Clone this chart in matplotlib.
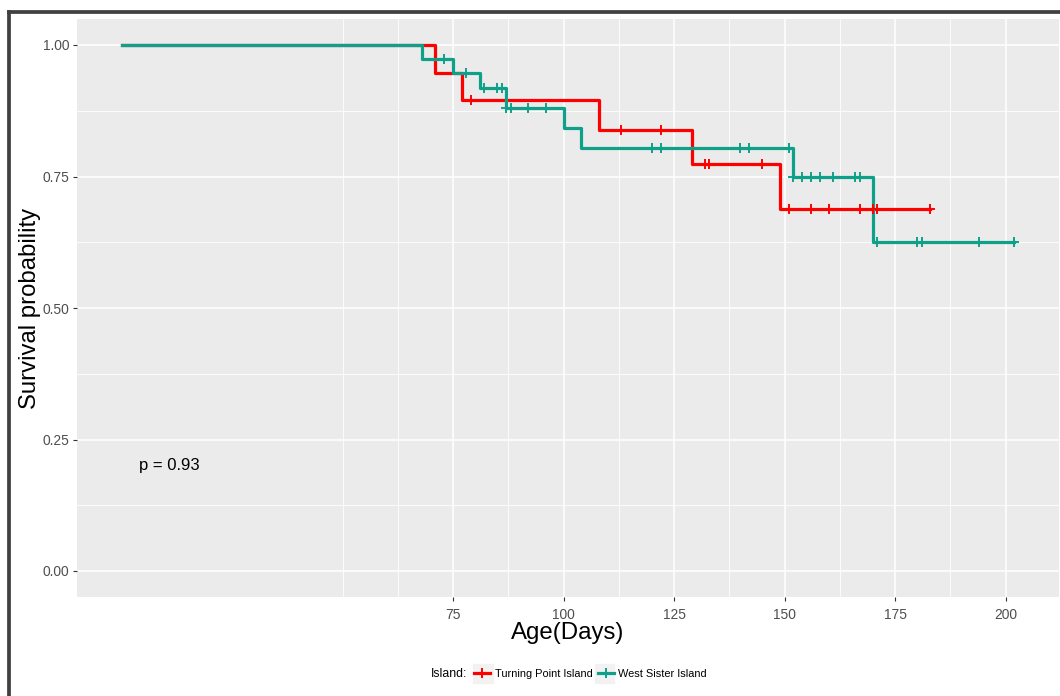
import numpy as np
import matplotlib.pyplot as plt
from matplotlib.lines import Line2D
from matplotlib.patches import Rectangle

plt.rcParams['font.family'] = ['Liberation Sans', 'DejaVu Sans']

# Kaplan-Meier estimates by island (step times in days, survival after each step)
tp_time = [0, 71, 77, 108, 129, 149, 183]
tp_surv = [1.0, 0.947, 0.895, 0.839, 0.774, 0.688, 0.688]
tp_cens = [79, 113, 122, 132, 133, 145, 151, 156, 160, 167, 170, 171, 183]

ws_time = [0, 68, 75, 81, 87, 100, 104, 152, 170, 202]
ws_surv = [1.0, 0.974, 0.947, 0.919, 0.881, 0.843, 0.804, 0.750, 0.625, 0.625]
ws_cens = [73, 78, 82, 85, 86, 87, 88, 92, 96, 120, 122, 140, 142, 151, 152,
           154, 156, 158, 161, 166, 167, 171, 180, 181, 194, 202]

groups = ['Turning Point Island', 'West Sister Island']
colors = ['#FF0000', '#0FA08A']
p_value = 0.93

x_breaks = [75, 100, 125, 150, 175, 200]
x_minor = [50, 62.5, 87.5, 112.5, 137.5, 162.5, 187.5]
y_breaks = [0, 0.25, 0.5, 0.75, 1.0]
y_minor = [0.125, 0.375, 0.625, 0.875]


def surv_at(times, surv, t):
    idx = np.searchsorted(times, t, side='right') - 1
    return np.asarray(surv)[idx]


W, H = 1060, 696
fig = plt.figure(figsize=(W / 100, H / 100), dpi=100)
ax = fig.add_axes([77 / W, 1 - 597.3 / H, 982 / W, 578.6 / H])
ax.set_facecolor('#EBEBEB')
for s in ax.spines.values():
    s.set_visible(False)

series = [(tp_time, tp_surv, tp_cens), (ws_time, ws_surv, ws_cens)]
for (t, s, c), col in zip(series, colors):
    ax.step(t, s, where='post', color=col, lw=2.3, zorder=3)
    ax.plot(c, surv_at(t, s, c), ls='none', marker='+', ms=7.5, mew=1.4,
            color=col, zorder=4)

ax.set_xlim(-10.1, 212.1)
ax.set_ylim(-0.05, 1.05)
ax.set_xticks(x_breaks)
ax.set_xticks(x_minor, minor=True)
ax.set_yticks(y_breaks)
ax.set_yticks(y_minor, minor=True)
ax.set_yticklabels([f'{v:.2f}' for v in y_breaks])
ax.grid(which='major', color='white', lw=1.1, zorder=0)
ax.grid(which='minor', color='white', lw=0.6, zorder=0)
ax.set_axisbelow(True)
ax.tick_params(which='major', length=3.2, width=0.8, color='#333333',
               labelsize=9.9, labelcolor='#4D4D4D', pad=2.5)
ax.tick_params(axis='x', which='major', pad=4.5)
ax.tick_params(which='minor', length=0)

ax.set_xlabel('Age(Days)', fontsize=17.3, va='center')
ax.xaxis.set_label_coords(0.5, (597.3 - 633) / 578.6)
ax.set_ylabel('Survival probability', fontsize=17.2, va='center')
ax.yaxis.set_label_coords((30 - 77) / 982, 0.5)

ax.text(4, 0.2, f'p = {p_value}', fontsize=12, ha='left', va='center')

# legend along the bottom, keys on a light grey background
for kx in (473.3, 595.0):
    fig.add_artist(Rectangle((kx / W, 1 - 683 / H), 19.4 / W, 19 / H,
                             transform=fig.transFigure, color='#F2F2F2',
                             zorder=0))
handles = [Line2D([], [], color=c, lw=2.3, marker='+', ms=7.5, mew=1.4)
           for c in colors]
fig.legend(handles, groups, ncol=2, loc='center left',
           bbox_to_anchor=(474 / W, 1 - 674 / H), frameon=False,
           fontsize=7.9, handlelength=1.5, handletextpad=0.4,
           columnspacing=0.45, borderpad=0, borderaxespad=0)
fig.text(430.7 / W, 1 - 674 / H, 'Island:', fontsize=8.8, ha='left',
         va='center')

# dark frame on the left and top edges
frame = dict(transform=fig.transFigure, color='#404040', lw=2.7,
             solid_capstyle='projecting')
fig.add_artist(Line2D([9.3 / W, 9.3 / W], [0, 1 - 11.5 / H], **frame))
fig.add_artist(Line2D([9.3 / W, 1], [1 - 11.5 / H, 1 - 11.5 / H], **frame))

fig.savefig('out.png', dpi=100)
